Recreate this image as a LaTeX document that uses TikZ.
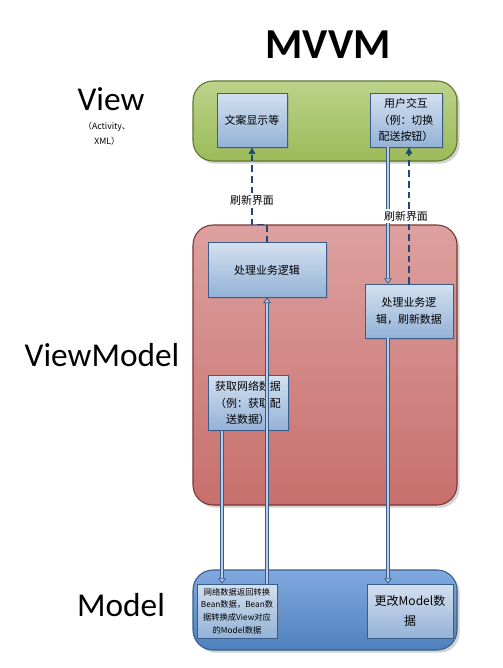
\documentclass[tikz,border=0pt]{standalone}
\usepackage{fontspec}
\setmainfont{Carlito}
\newfontfamily\cjk{Noto Sans CJK SC}
\usetikzlibrary{arrows.meta,shadows}
\definecolor{boxline}{HTML}{385D8A}
\definecolor{boxtop}{HTML}{D3E0F0}
\definecolor{boxbot}{HTML}{94B2D6}
\definecolor{pipefill}{HTML}{B9CDE5}
\definecolor{dashline}{HTML}{1F497D}
\definecolor{viewtop}{HTML}{BCD38A}
\definecolor{viewbot}{HTML}{9BBB59}
\definecolor{viewline}{HTML}{5E7530}
\definecolor{vmtop}{HTML}{DDA19F}
\definecolor{vmbot}{HTML}{C76F6D}
\definecolor{vmline}{HTML}{7A3634}
\definecolor{modeltop}{HTML}{80A9DF}
\definecolor{modelbot}{HTML}{4F81BD}
\begin{document}
\begin{tikzpicture}[x=0.75pt,y=-0.75pt,>={Triangle[length=5pt,width=5pt]},
    panel/.style={rounded corners=15pt,line width=0.8pt,
        drop shadow={opacity=0.35,shadow xshift=2pt,shadow yshift=-2pt}},
    box/.style={draw=boxline,line width=0.6pt,top color=boxtop,bottom color=boxbot,
        align=center,inner sep=2pt,font=\cjk\fontsize{8.2}{12.5}\selectfont,
        drop shadow={opacity=0.3,shadow xshift=1.5pt,shadow yshift=-1.5pt}},
    refresh/.style={dashline,line width=0.8pt,dash pattern=on 5pt off 3pt,->},
    pipe/.style={draw=boxline,line width=0.6pt,double=pipefill,double distance=1.6pt,
        -{Triangle[length=4pt,width=6pt,fill=pipefill]}},
    lbl/.style={fill=white,inner sep=1.5pt,font=\cjk\fontsize{8.2}{10}\selectfont},
    layer/.style={font=\fontsize{25}{28}\selectfont}]
\useasboundingbox (0,0) rectangle (503,668);
% layers
\draw[panel,draw=viewline,top color=viewtop,bottom color=viewbot] (193,81) rectangle (457,161);
\draw[panel,draw=vmline,top color=vmtop,bottom color=vmbot] (193,225) rectangle (457,505);
\draw[panel,draw=boxline,top color=modeltop,bottom color=modelbot] (193,570) rectangle (457,650);
% titles
\node[font=\bfseries\fontsize{32}{36}\selectfont] (title) at (328,45) {MVVM};
\node[layer] (view) at (111,99) {View};
\node[font=\cjk\fontsize{6.5}{11}\selectfont,align=center] (viewnote) at (107,134) {（Activity、\\XML）};
\node[layer] (vm) at (102,355) {ViewModel};
\node[layer] (model) at (121,605) {Model};
% boxes
\node[box,minimum width=52.5pt,minimum height=40.5pt] (text) at (252,120) {文案显示等};
\node[box,minimum width=54pt,minimum height=40.5pt] (uact) at (406,120) {用户交互\\（例：切换\\配送按钮）};
\node[box,minimum width=88.5pt,minimum height=41pt] (proc1) at (267,270) {处理业务逻辑};
\node[box,minimum width=66pt,minimum height=40.5pt] (proc2) at (409,311) {处理业务逻\\辑，刷新数据};
\node[box,minimum width=60pt,minimum height=41pt] (fetch) at (248,403) {获取网络数据\\（例：获取配\\送数据）};
\node[box,minimum width=60pt,minimum height=40.5pt,font=\cjk\fontsize{6.2}{9.5}\selectfont] (conv) at (237,611) {网络数据返回转换\\Bean数据，Bean数\\据转换成View对应\\的Model数据};
\node[box,minimum width=64.5pt,minimum height=40.5pt,font=\cjk\fontsize{9}{15}\selectfont] (change) at (410,611) {更改Model数\\据};
% connectors
\draw[refresh] (proc1.north) -- ++(0,-18) -| (text.south);
\draw[refresh] (proc2.north) -- (proc2.north |- uact.south);
\draw[pipe] ([xshift=-13.5pt]uact.south) -- ([xshift=-13.5pt]uact.south |- proc2.north);
\draw[pipe] ([xshift=-19.5pt]fetch.south) -- ([xshift=-19.5pt]fetch.south |- conv.north);
\draw[pipe] ([xshift=22.5pt]conv.north) -- (proc1.south);
\draw[pipe] ([xshift=-15.75pt]proc2.south) -- ([xshift=-15.75pt]proc2.south |- change.north);
\node[lbl] (lbl1) at (252,200) {刷新界面};
\node[lbl] (lbl2) at (406,216) {刷新界面};
\end{tikzpicture}
\end{document}
